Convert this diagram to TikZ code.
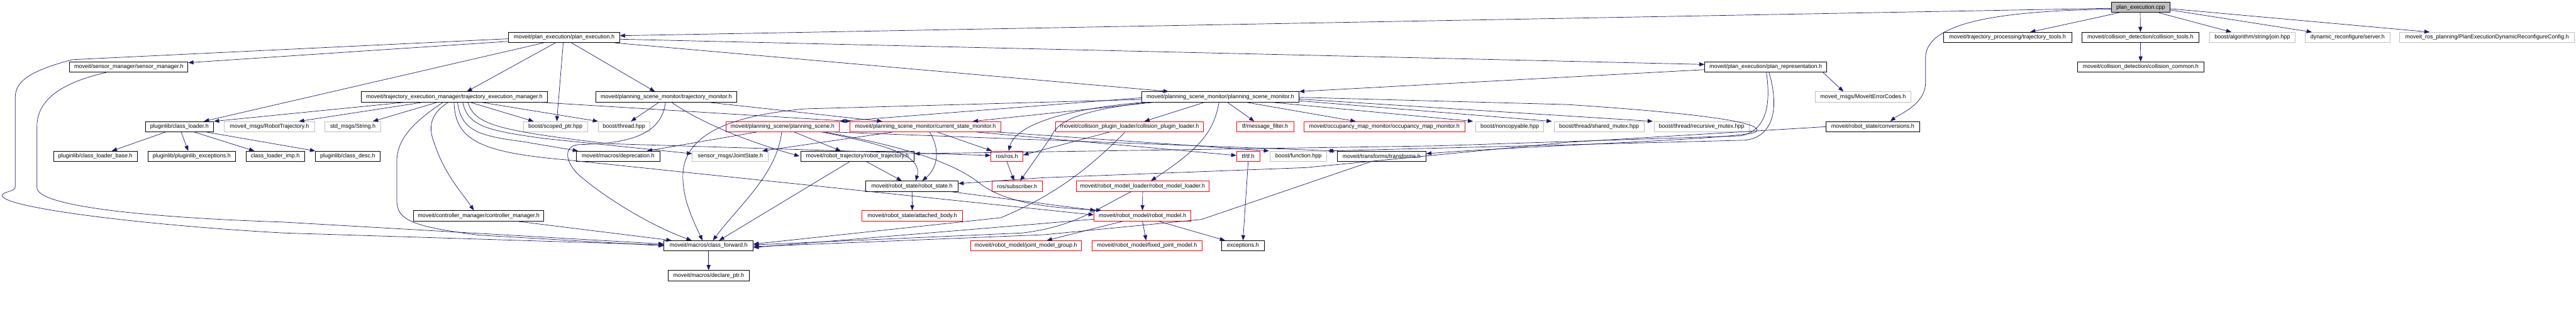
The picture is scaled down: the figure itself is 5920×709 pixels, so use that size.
\documentclass[tikz,border=0pt]{standalone}
\usepackage{fontspec}
\setmainfont{Liberation Sans}
\usetikzlibrary{arrows.meta,calc}
\definecolor{eb}{HTML}{191970}
\definecolor{gb}{HTML}{BFBFBF}
\definecolor{rb}{HTML}{FF0000}
\definecolor{gf}{HTML}{BFBFBF}
\tikzset{
  nbase/.style={draw, line width=0.6pt, inner sep=0pt, minimum height=11.75pt, font=\fontsize{6.5pt}{7pt}\selectfont, anchor=center},
  nb/.style={nbase, draw=black},
  ng/.style={nbase, draw=gb},
  nr/.style={nbase, draw=rb},
  e/.style={draw=eb, line width=0.5pt, -{Triangle[length=6pt,width=4.5pt]}, fill=none}
}
\newcommand\nd[6]{\node[#5, minimum width={(#3-#2)*0.5pt}] (#1) at ({(#2+#3)/2},#4) {#6};}
\begin{document}
\begin{tikzpicture}[x=0.5pt,y=-0.5pt]
\useasboundingbox (0,0) rectangle (5920,709);
% row 0
\nd{cpp}{4852}{4987}{17}{nb,fill=gf}{plan\_execution.cpp}
% row 1
\nd{pe}{1169}{1424}{86}{nb}{moveit/plan\_execution/plan\_execution.h}
\nd{tt}{4466}{4761}{86}{nb}{moveit/trajectory\_processing/trajectory\_tools.h}
\nd{ct}{4784}{5054}{86}{nb}{moveit/collision\_detection/collision\_tools.h}
\nd{join}{5078}{5274}{86}{ng}{boost/algorithm/string/join.hpp}
\nd{dyn}{5298}{5492}{86}{ng}{dynamic\_reconfigure/server.h}
\nd{cfg}{5515}{5916}{86}{ng}{moveit\_ros\_planning/PlanExecutionDynamicReconfigureConfig.h}
% row 2
\nd{sm}{160}{432}{154}{nb}{moveit/sensor\_manager/sensor\_manager.h}
\nd{pr}{3918}{4198}{154}{nb}{moveit/plan\_execution/plan\_representation.h}
\nd{cc}{4774}{5065}{154}{nb}{moveit/collision\_detection/collision\_common.h}
% row 3
\nd{tem}{830}{1258}{222.5}{nb}{moveit/trajectory\_execution\_manager/trajectory\_execution\_manager.h}
\nd{tm}{1369}{1693}{222.5}{nb}{moveit/planning\_scene\_monitor/trajectory\_monitor.h}
\nd{psm}{2624}{2985}{222.5}{nb}{moveit/planning\_scene\_monitor/planning\_scene\_monitor.h}
\nd{mec}{4171}{4392}{222.5}{ng}{moveit\_msgs/MoveItErrorCodes.h}
% row 4
\nd{cl}{334}{491}{291}{nb}{pluginlib/class\_loader.h}
\nd{rt}{515}{723}{291}{ng}{moveit\_msgs/RobotTrajectory.h}
\nd{str}{747}{875}{291}{ng}{std\_msgs/String.h}
\nd{scoped}{1203}{1350}{291}{ng}{boost/scoped\_ptr.hpp}
\nd{thr}{1375}{1493}{291}{ng}{boost/thread.hpp}
\nd{ps}{1668}{1929}{291}{nr}{moveit/planning\_scene/planning\_scene.h}
\nd{csm}{1953}{2300}{291}{nr}{moveit/planning\_scene\_monitor/current\_state\_monitor.h}
\nd{cpl}{2426}{2766}{291}{nr}{moveit/collision\_plugin\_loader/collision\_plugin\_loader.h}
\nd{mf}{2842}{2973}{291}{nr}{tf/message\_filter.h}
\nd{omm}{2996}{3367}{291}{nr}{moveit/occupancy\_map\_monitor/occupancy\_map\_monitor.h}
\nd{nc}{3391}{3548}{291}{ng}{boost/noncopyable.hpp}
\nd{shm}{3572}{3778}{291}{ng}{boost/thread/shared\_mutex.hpp}
\nd{rmx}{3801}{4020}{291}{ng}{boost/thread/recursive\_mutex.hpp}
\nd{conv}{4197}{4411}{291}{nb}{moveit/robot\_state/conversions.h}
% row 5
\nd{clb}{123}{315}{359}{nb}{pluginlib/class\_loader\_base.h}
\nd{ple}{340}{541}{359}{nb}{pluginlib/pluginlib\_exceptions.h}
\nd{cli}{565}{700}{359}{nb}{class\_loader\_imp.h}
\nd{cd}{724}{874}{359}{nb}{pluginlib/class\_desc.h}
\nd{dep}{1325}{1516}{359}{nb}{moveit/macros/deprecation.h}
\nd{js}{1591}{1766}{359}{ng}{sensor\_msgs/JointState.h}
\nd{rtraj}{1840}{2101}{359}{nb}{moveit/robot\_trajectory/robot\_trajectory.h}
\nd{ros}{2277}{2351}{359}{nr}{ros/ros.h}
\nd{tf}{2842}{2895}{359}{nr}{tf/tf.h}
\nd{fn}{2919}{3049}{359}{ng}{boost/function.hpp}
\nd{tr}{3073}{3277}{359}{nb}{moveit/transforms/transforms.h}
% row 6
\nd{rs}{1990}{2202}{427.5}{nb}{moveit/robot\_state/robot\_state.h}
\nd{sub}{2280}{2395}{427.5}{nr}{ros/subscriber.h}
\nd{rml}{2473}{2779}{427.5}{nr}{moveit/robot\_model\_loader/robot\_model\_loader.h}
% row 7
\nd{cm}{950}{1250}{495.5}{nb}{moveit/controller\_manager/controller\_manager.h}
\nd{ab}{1981}{2212}{495.5}{nr}{moveit/robot\_state/attached\_body.h}
\nd{rmod}{2514}{2737}{495.5}{nr}{moveit/robot\_model/robot\_model.h}
% row 8
\nd{cf}{1526}{1731}{564.5}{nb}{moveit/macros/class\_forward.h}
\nd{jmg}{2230}{2485}{564.5}{nr}{moveit/robot\_model/joint\_model\_group.h}
\nd{fjm}{2510}{2762}{564.5}{nr}{moveit/robot\_model/fixed\_joint\_model.h}
\nd{exc}{2808}{2905}{564.5}{nb}{exceptions.h}
% row 9
\nd{dp}{1535}{1722}{633}{nb}{moveit/macros/declare\_ptr.h}

% ---- edges from plan_execution.cpp
\draw[e] ($(cpp.west)+(0,2)$) -- ($(pe.east)+(0,-4)$);
\draw[e] ($(cpp.west)+(0,4)$) .. controls (4600,25) and (4430,50) .. (4425,130) -- (4425,190) .. controls (4425,240) and (4365,262) .. ($(conv.north)+(40,0)$);
\draw[e] ($(cpp.south west)+(18,0)$) -- ($(tt.north)+(52,0)$);
\draw[e] ($(cpp.south west)+(67,0)$) -- ($(ct.north)+(0,0)$);
\draw[e] ($(cpp.south west)+(110,0)$) -- ($(join.north)+(-48,0)$);
\draw[e] ($(cpp.east)+(0,6)$) -- ($(dyn.north)+(-82,0)$);
\draw[e] ($(cpp.east)+(0,3)$) -- ($(cfg.north)+(-132,0)$);
\draw[e] ($(ct.south)+(0,0)$) -- ($(cc.north)+(0,0)$);
% ---- edges from plan_execution.h
\draw[e] ($(pe.west)+(0,3)$) -- (166,137) .. controls (60,165) and (35,190) .. (35,225) -- (35,430) .. controls (35,440) and (5,440) .. (5,449) .. controls (5,475) and (300,515) .. (650,535) -- ($(cf.west)+(0,-2)$);
\draw[e] ($(pe.west)+(0,9)$) -- ($(sm.east)+(0,-10)$);
\draw[e] ($(pe.south west)+(81,0)$) -- ($(cl.north)+(56,0)$);
\draw[e] ($(pe.south west)+(108,0)$) -- ($(tem.north)+(29,0)$);
\draw[e] ($(pe.south west)+(126,0)$) -- ($(scoped.north)+(3,0)$);
\draw[e] ($(pe.south west)+(145,0)$) -- ($(tm.north)+(-26,0)$);
\draw[e] ($(pe.east)+(0,4)$) -- ($(pr.west)+(0,-6)$);
\draw[e] ($(pe.south west)+(244,0)$) -- ($(psm.north west)+(62,0)$);
% ---- sensor manager
\draw[e] ($(sm.south west)+(85,0)$) .. controls (140,190) and (85,230) .. (85,290) -- (85,431) .. controls (85,475) and (350,500) .. (650,510) -- ($(cf.west)+(0,-4)$);
% ---- class loader
\draw[e] ($(cl.south west)+(47,0)$) -- ($(clb.north)+(38,0)$);
\draw[e] ($(cl.south west)+(83,0)$) -- ($(ple.north)+(-8,0)$);
\draw[e] ($(cl.south west)+(113,0)$) -- ($(cli.north)+(-48,0)$);
\draw[e] ($(cl.south west)+(141,0)$) -- ($(cd.north west)+(1,0)$);
% ---- trajectory_execution_manager
\draw[e] ($(tem.south west)+(102,0)$) -- (cl.north east);
\draw[e] ($(tem.south west)+(143,0)$) -- ($(rt.north)+(68,0)$);
\draw[e] ($(tem.south west)+(176,0)$) -- ($(str.north)+(46,0)$);
\draw[e] ($(tem.south west)+(189,0)$) .. controls (950,280) and (912,320) .. (912,370) -- (912,460) .. controls (912,505) and (945,520) .. (1100,540) -- ($(cf.west)+(0,0)$);
\draw[e] ($(tem.south west)+(201,0)$) .. controls (990,260) and (985,290) .. (995,320) .. controls (1020,400) and (1060,440) .. ($(cm.north)+(-11,0)$);
\draw[e] ($(tem.south west)+(214,0)$) .. controls (1046,320) and (1100,350) .. (1300,367) -- ($(rmod.west)+(0,-2)$);
\draw[e] ($(tem.south west)+(222,0)$) .. controls (1060,300) and (1100,312) .. (1200,325) -- ($(dep.north west)+(4,0)$);
\draw[e] ($(tem.south west)+(234,0)$) .. controls (1075,290) and (1120,300) .. (1250,318) -- ($(js.west)+(0,-6)$);
\draw[e] ($(tem.south west)+(246,0)$) .. controls (1090,285) and (1140,300) .. (1400,330) -- ($(ros.west)+(0,-2)$);
\draw[e] ($(tem.south west)+(251,0)$) -- ($(scoped.north west)+(24,0)$);
\draw[e] ($(tem.south west)+(276,0)$) -- ($(thr.north west)+(0,0)$);
\draw[e] ($(tem.south west)+(411,0)$) -- ($(csm.north west)+(2,0)$);
% ---- trajectory_monitor
\draw[e] ($(tm.south west)+(146,0)$) -- ($(thr.north)+(16,0)$);
\draw[e] ($(tm.south west)+(161,0)$) .. controls (1520,320) and (1420,330) .. (1330,332) .. controls (1290,335) and (1300,380) .. (1340,410) .. controls (1400,460) and (1500,520) .. ($(cf.north west)+(64,0)$);
\draw[e] ($(tm.south west)+(175,0)$) .. controls (1600,275) and (1700,320) .. ($(rtraj.north west)+(-2,12)$);
\draw[e] ($(tm.south west)+(258,0)$) -- ($(csm.north west)+(75,0)$);
% ---- planning_scene
\draw[e] ($(ps.south west)+(71,0)$) -- ($(dep.north east)+(-30,0)$);
\draw[e] ($(ps.south west)+(129,0)$) .. controls (1785,400) and (1700,470) .. ($(cf.north west)+(113,0)$);
\draw[e] ($(ps.south west)+(158,0)$) -- ($(rtraj.north west)+(93,0)$);
\draw[e] ($(ps.south west)+(222,0)$) .. controls (2050,335) and (2120,360) .. ($(rs.north west)+(115,0)$);
\draw[e] ($(ps.south west)+(228,0)$) .. controls (2100,340) and (2200,380) .. (2250,420) .. controls (2320,475) and (2450,478) .. ($(rmod.north west)+(18,0)$);
\draw[e] ($(ps.south east)+(-10,0)$) -- ($(tr.north west)+(-4,0)$);
% ---- current_state_monitor
\draw[e] ($(csm.south west)+(99,0)$) -- ($(js.north east)+(-15,0)$);
\draw[e] ($(csm.south west)+(184,0)$) .. controls (2165,350) and (2150,390) .. ($(rs.north west)+(130,0)$);
\draw[e] ($(csm.south west)+(202,0)$) -- ($(ros.north west)+(3,0)$);
\draw[e] ($(csm.south west)+(292,0)$) -- ($(tf.west)+(0,-2)$);
\draw[e] ($(csm.south east)+(-8,0)$) -- ($(fn.north west)+(-2,0)$);
% ---- planning_scene_monitor
\draw[e] ($(psm.west)+(0,2)$) -- ($(ps.north east)+(0,0)$);
\draw[e] ($(psm.south west)+(30,0)$) -- ($(csm.north east)+(-65,0)$);
\draw[e] ($(psm.west)+(0,6)$) -- (1850,250) .. controls (1650,268) and (1580,320) .. (1570,390) .. controls (1565,450) and (1590,500) .. ($(cf.north west)+(89,0)$);
\draw[e] ($(psm.south west)+(5,0)$) .. controls (2400,255) and (2330,300) .. ($(ros.north)+(4,0)$);
\draw[e] ($(psm.south west)+(15,0)$) .. controls (2470,255) and (2430,280) .. (2415,315) -- ($(sub.north)+(7,0)$);
\draw[e] ($(psm.south west)+(145,0)$) -- ($(cpl.north)+(34,0)$);
\draw[e] ($(psm.south west)+(178,0)$) .. controls (2790,300) and (2760,340) .. ($(rml.north)+(19,0)$);
\draw[e] ($(psm.south west)+(197,0)$) -- ($(mf.north)+(-25,0)$);
\draw[e] ($(psm.south west)+(240,0)$) -- ($(omm.north)+(-66,0)$);
\draw[e] ($(psm.south west)+(298,0)$) -- ($(nc.north west)+(-5,0)$);
\draw[e] ($(psm.east)+(0,9)$) -- ($(shm.north west)+(-5,0)$);
\draw[e] ($(psm.east)+(0,5)$) -- ($(rmx.north west)+(-2,0)$);
\draw[e] ($(psm.east)+(0,1)$) -- (3600,240) .. controls (4030,268) and (4048,292) .. (4035,303) .. controls (4000,320) and (3500,335) .. ($(tr.east)+(0,-6)$);
% ---- plan_representation
\draw[e] ($(pr.west)+(0,6)$) -- ($(psm.north east)+(0,0)$);
\draw[e] ($(pr.south west)+(142,0)$) .. controls (4070,240) and (4060,300) .. (4000,312) -- (3300,335) -- ($(rtraj.east)+(0,-6)$);
\draw[e] ($(pr.south west)+(148,0)$) .. controls (4090,250) and (4075,315) .. (4010,322) -- ($(fn.north east)+(2,0)$);
\draw[e] ($(pr.south west)+(272,0)$) -- ($(mec.north)+(-45,0)$);
% ---- conversions
\draw[e] (conv.west) -- (3600,327) -- (3000,385) -- (2400,408) -- ($(rs.east)+(0,-6)$);
% ---- collision plugin loader
\draw[e] ($(cpl.south west)+(124,0)$) -- ($(ros.east)+(0,-3)$);
\draw[e] ($(cpl.south west)+(160,0)$) .. controls (2500,390) and (2420,450) .. (2300,500) -- ($(cf.east)+(0,-4)$);
% ---- lower part
\draw[e] ($(rtraj.south west)+(152,0)$) -- ($(rs.north west)+(83,0)$);
\draw[e] ($(rtraj.south west)+(113,0)$) -- ($(cf.north east)+(-79,0)$);
\draw[e] (ros.south) -- ($(sub.north)+(-7,0)$);
\draw[e] (rs.south) -- (ab.north);
\draw[e] ($(rs.south east)+(-20,0)$) -- ($(rmod.north west)+(4,0)$);
\draw[e] (rml.south) -- ($(rmod.north)+(0,0)$);
\draw[e] ($(rml.south west)+(128,0)$) .. controls (2520,480) and (2470,520) .. (2350,535) -- ($(cf.east)+(0,-2)$);
\draw[e] ($(tr.south west)+(78,0)$) -- (2761,504) -- (2400,539) -- ($(cf.east)+(0,2)$);
\draw[e] ($(rmod.west)+(0,8)$) -- ($(cf.east)+(0,4)$);
\draw[e] ($(rmod.south west)+(68,0)$) -- ($(jmg.north east)+(-80,0)$);
\draw[e] ($(rmod.south west)+(112,0)$) -- ($(fjm.north)+(-2,0)$);
\draw[e] ($(rmod.south west)+(148,0)$) -- ($(exc.north west)+(8,0)$);
\draw[e] (tf.south) -- ($(exc.north)+(0,0)$);
\draw[e] ($(cm.south east)+(-65,0)$) -- ($(cf.north west)+(18,0)$);
\draw[e] (cf.south) -- (dp.north);
\end{tikzpicture}
\end{document}
